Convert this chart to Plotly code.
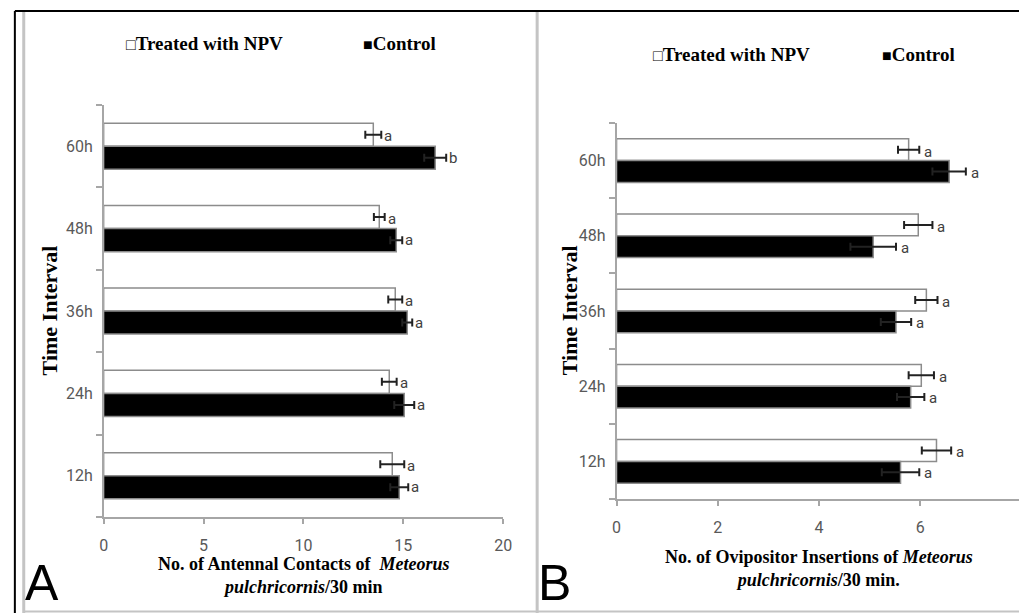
import plotly.graph_objects as go

# ---------------- data ----------------
categories = ["12h", "24h", "36h", "48h", "60h"]

A_treated = [14.45, 14.3, 14.6, 13.8, 13.5]
A_treated_err = [0.6, 0.37, 0.35, 0.27, 0.4]
A_control = [14.8, 15.05, 15.2, 14.65, 16.6]
A_control_err = [0.45, 0.5, 0.25, 0.3, 0.55]
A_treated_letters = ["a", "a", "a", "a", "a"]
A_control_letters = ["a", "a", "a", "a", "b"]

B_treated = [6.32, 6.02, 6.12, 5.96, 5.77]
B_treated_err = [0.29, 0.25, 0.22, 0.28, 0.21]
B_control = [5.61, 5.81, 5.52, 5.07, 6.57]
B_control_err = [0.37, 0.27, 0.3, 0.45, 0.33]
B_treated_letters = ["a", "a", "a", "a", "a"]
B_control_letters = ["a", "a", "a", "a", "a"]

A_xticks = [0, 5, 10, 15, 20]
B_xticks = [0, 2, 4, 6, 8]

W, H = 1028, 613

def px(x):
    return x / W

def py(y):
    return (H - y) / H

AXIS_GRAY = "#a6a6a6"
TICK_FONT = dict(family="Liberation Sans Narrow, Roboto, sans-serif", size=16, color="#595959")
SERIF = "Liberation Serif, Times New Roman, serif"

fig = go.Figure()

BAR_W_A = 0.28
BAR_W_B = 0.29

def add_panel(xa, ya, treated, t_err, control, c_err, bw):
    fig.add_trace(go.Bar(
        y=categories, x=treated, orientation="h", width=bw, offset=0,
        marker=dict(color="white", line=dict(color="#8c8c8c", width=1.5)),
        error_x=dict(type="data", array=t_err, color="#222222", thickness=2, width=4),
        xaxis=xa, yaxis=ya, showlegend=False, name="Treated with NPV",
    ))
    fig.add_trace(go.Bar(
        y=categories, x=control, orientation="h", width=bw, offset=-bw,
        marker=dict(color="black", line=dict(color="#8c8c8c", width=1.5)),
        error_x=dict(type="data", array=c_err, color="#222222", thickness=2, width=4),
        xaxis=xa, yaxis=ya, showlegend=False, name="Control",
    ))

add_panel("x", "y", A_treated, A_treated_err, A_control, A_control_err, BAR_W_A)
add_panel("x2", "y2", B_treated, B_treated_err, B_control, B_control_err, BAR_W_B)

common_x = dict(showline=True, linecolor=AXIS_GRAY, linewidth=1.5, ticks="outside",
                ticklen=5, tickcolor=AXIS_GRAY, tickwidth=1.5, showgrid=False,
                zeroline=False, tickfont=TICK_FONT, ticklabelstandoff=8)
common_y = dict(showline=True, linecolor=AXIS_GRAY, linewidth=1.5, ticks="outside",
                ticklen=6, tickcolor=AXIS_GRAY, tickwidth=1.5, showgrid=False,
                tickson="boundaries", tickfont=TICK_FONT, ticklabelstandoff=6,
                categoryorder="array", categoryarray=categories)

fig.update_layout(
    width=W, height=H,
    margin=dict(l=0, r=0, t=0, b=0),
    paper_bgcolor="white", plot_bgcolor="white",
    xaxis=dict(domain=[px(100), px(505)], range=[0, 20], tickvals=A_xticks, anchor="y", **common_x),
    yaxis=dict(domain=[py(517), py(105)], anchor="x", **common_y),
    xaxis2=dict(domain=[px(620), 1.0], range=[0, 7.95], tickvals=B_xticks, anchor="y2", **common_x),
    yaxis2=dict(domain=[py(499), py(123)], anchor="x2", **common_y),
    showlegend=False,
)

ann = []
LETTER_FONT = dict(family="Liberation Sans Narrow, Roboto, sans-serif", size=15, color="#404040")

def add_letters(xref, yref, vals, errs, letters, shift, xs):
    for c, v, e, l in zip(categories, vals, errs, letters):
        ann.append(dict(x=v + e, y=c, xref=xref, yref=yref, text=l, showarrow=False,
                        xanchor="left", yanchor="middle", xshift=xs, yshift=shift,
                        font=LETTER_FONT))

add_letters("x", "y", A_treated, A_treated_err, A_treated_letters, 10, 1)
add_letters("x", "y", A_control, A_control_err, A_control_letters, -11.5, 1)
add_letters("x2", "y2", B_treated, B_treated_err, B_treated_letters, 9, 3)
add_letters("x2", "y2", B_control, B_control_err, B_control_letters, -12, 3)

LEG_FONT = dict(family=SERIF, size=19, color="black")
SQ_OPEN = "<span style='font-size:16px'>\u25a1</span>"
SQ_FILL = "<span style='font-size:16px'>\u25a0</span>"

def legend(x1, x2, y):
    ann.append(dict(x=px(x1), y=py(y), xref="paper", yref="paper", showarrow=False,
                    xanchor="left", yanchor="middle", text=SQ_OPEN + "<b>Treated with NPV</b>",
                    font=LEG_FONT))
    ann.append(dict(x=px(x2), y=py(y), xref="paper", yref="paper", showarrow=False,
                    xanchor="left", yanchor="middle", text=SQ_FILL + "<b>Control</b>",
                    font=LEG_FONT))

legend(121, 361, 44)
legend(655, 887, 55)

TITLE_FONT = dict(family=SERIF, size=18, color="black")

def ytitle(x, y):
    ann.append(dict(x=px(x), y=py(y), xref="paper", yref="paper", showarrow=False,
                    textangle=-90, text="<b>Time Interval</b>", font=dict(family=SERIF, size=22, color="black"),
                    xanchor="center", yanchor="middle"))

ytitle(45, 310)
ytitle(572, 310)

ann.append(dict(x=px(303), y=py(552), xref="paper", yref="paper", showarrow=False,
                xanchor="center", yanchor="top", font=TITLE_FONT,
                text="<b>No. of Antennal Contacts of  <i>Meteorus</i></b><br><b><i>pulchricornis</i>/30 min</b>"))
ann.append(dict(x=px(825), y=py(545), xref="paper", yref="paper", showarrow=False,
                xanchor="center", yanchor="top", font=TITLE_FONT,
                text="<b>No. of Ovipositor Insertions of <i>Meteorus</i></b><br><b><i>pulchricornis</i>/30 min.</b>"))

PANEL_FONT = dict(family="Liberation Sans, Arial, sans-serif", size=50, color="black")
ann.append(dict(x=px(18), y=py(613), xref="paper", yref="paper", showarrow=False,
                xanchor="left", yanchor="bottom", text="A", font=PANEL_FONT))
ann.append(dict(x=px(538), y=py(613), xref="paper", yref="paper", showarrow=False,
                xanchor="left", yanchor="bottom", text="B", font=PANEL_FONT))

fig.update_layout(annotations=ann)

shapes = [
    dict(type="line", xref="paper", yref="paper", x0=px(10), x1=1, y0=py(11), y1=py(11),
         line=dict(color="black", width=2)),
    dict(type="line", xref="paper", yref="paper", x0=px(10), x1=px(10), y0=0, y1=py(11),
         line=dict(color="black", width=2)),
    dict(type="line", xref="paper", yref="paper", x0=px(19), x1=px(19), y0=0, y1=py(12),
         line=dict(color="#c4c4c4", width=3)),
    dict(type="line", xref="paper", yref="paper", x0=px(539.5), x1=px(539.5), y0=0, y1=py(12),
         line=dict(color="#c4c4c4", width=3)),
    dict(type="line", xref="paper", yref="paper", x0=px(19), x1=1, y0=py(611.5), y1=py(611.5),
         line=dict(color="#c4c4c4", width=2)),
]
fig.update_layout(shapes=shapes)

fig.write_html("out.html", config={"displayModeBar": False},
               post_script="document.body.style.margin='0';document.body.style.overflow='hidden';")
